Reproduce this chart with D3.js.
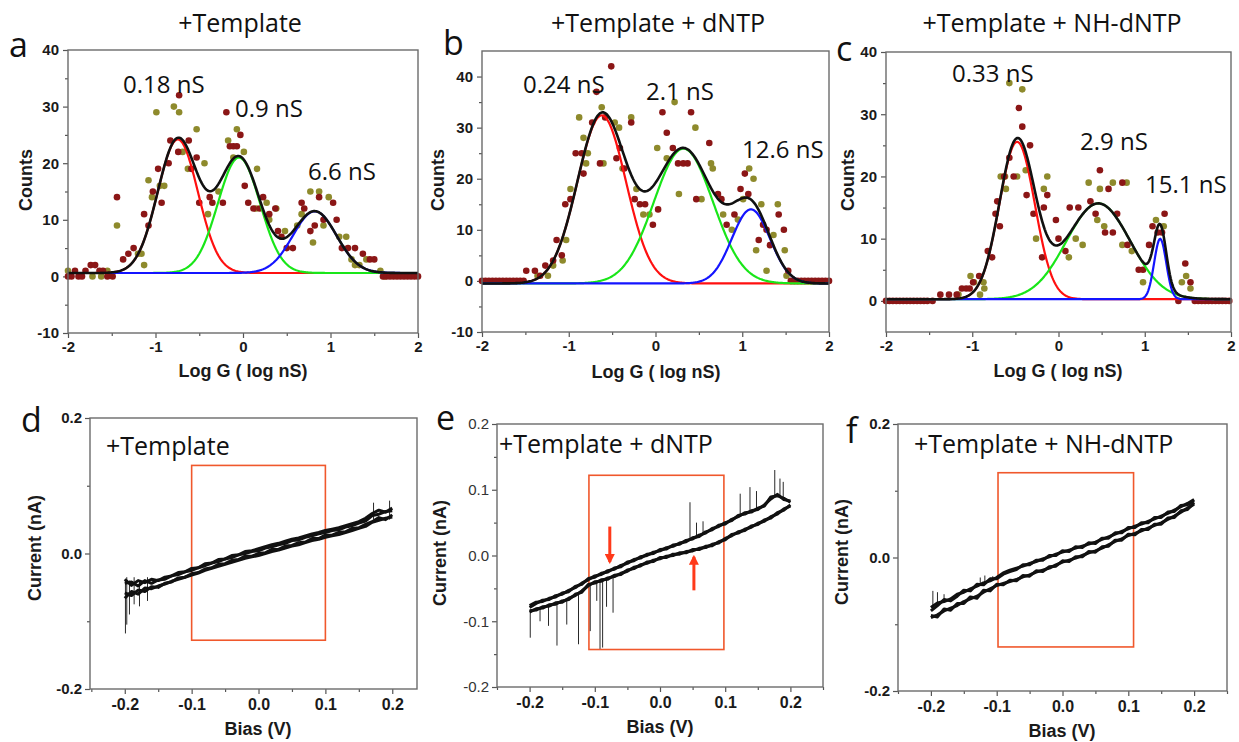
<!DOCTYPE html>
<html>
<head>
<meta charset="utf-8">
<script src="https://cdn.jsdelivr.net/npm/d3@7"></script>
<style>
  body { margin: 0; background: #fff; }
  svg { display: block; }
</style>
</head>
<body>
<div id="chart"></div>
<script>
// ---------- histogram data : [log G (log nS), counts] ----------
const aRed = [[-2.00,0],[-1.96,0],[-1.92,1],[-1.88,0],[-1.84,0],[-1.80,1],[-1.74,2],[-1.69,2],[-1.64,1],[-1.60,1],[-1.55,0],[-1.49,0],
  [-1.44,14],[-1.37,3],[-1.31,4],[-1.25,5],[-1.13,11],[-1.08,9],[-1.03,15],[-0.97,19],[-0.93,13],[-0.85,20],[-0.83,24],[-0.73,32],
  [-0.74,22],[-0.62,24],[-0.59,19],[-0.53,21],[-0.50,13],[-0.38,14],[-0.35,13],[-0.23,13],[-0.19,29],[-0.15,23],[-0.11,23],[-0.07,23],
  [-0.03,25],[0.02,16],[0.06,13],[0.12,12],[0.19,12],[0.23,14],[0.30,11],[0.37,12],[0.40,8],[0.44,7],[0.50,5],[0.57,5],[0.67,13],
  [0.70,12],[0.77,8],[0.82,9],[0.87,14],[0.92,10],[1.03,13],[1.07,10],[1.13,5],[1.20,5],[1.28,5],[1.37,4],[1.45,3],[1.50,3],
  [1.60,0],[1.64,0],[1.68,0],[1.72,0],[1.76,0],[1.80,0],[1.84,0],[1.88,0],[1.92,0],[1.96,0],[2.00,0]];
const aOlive = [[-2.00,1],[-1.72,0],[-1.62,0],[-1.55,1],[-1.44,9],[-1.20,4],[-1.16,4],[-1.13,2],[-1.08,17],[-1.04,14],[-0.99,29],
  [-0.95,16],[-0.90,16],[-0.79,30],[-0.73,29],[-0.69,22],[-0.63,19],[-0.53,26],[-0.44,20],[-0.40,11],[-0.28,15],[-0.17,24],
  [-0.11,21],[-0.07,26],[0.01,22],[0.15,12],[0.16,19],[0.27,13],[0.30,10],[0.38,12],[0.48,8],[0.62,9],[0.67,11],[0.77,15],
  [0.80,6],[0.87,15],[0.92,9],[0.98,14],[1.10,7],[1.18,7],[1.24,3],[1.28,2],[1.33,2],[1.41,3],[1.57,1],[1.62,0]];

const bRed = [[-2.00,0],[-1.96,0],[-1.92,0],[-1.88,0],[-1.84,0],[-1.80,0],[-1.76,0],[-1.72,0],[-1.68,0],[-1.64,0],[-1.60,0],[-1.56,0],[-1.52,0],
  [-1.49,2],[-1.39,2],[-1.33,1],[-1.27,3],[-1.18,4],[-1.14,8],[-1.08,5],[-1.04,15],[-0.98,16],[-0.92,25],[-0.85,25],[-0.83,21],
  [-0.73,31],[-0.68,37],[-0.64,23],[-0.58,32],[-0.51,42],[-0.45,24],[-0.41,26],[-0.36,22],[-0.28,31],[-0.24,16],[-0.18,15],
  [-0.12,15],[-0.03,11],[0.03,14],[0.08,33],[0.13,29],[0.20,26],[0.26,23],[0.32,23],[0.37,23],[0.41,33],[0.47,16],[0.62,27],
  [0.72,17],[0.76,16],[0.82,11],[0.91,13],[0.98,18],[1.03,21],[1.07,17],[1.19,8],[1.24,11],[1.28,10],[1.32,7],[1.42,13],
  [1.48,10],[1.53,2],[1.56,0],[1.60,0],[1.64,0],[1.68,0],[1.72,0],[1.76,0],[1.80,0],[1.84,0],[1.88,0],[1.92,0],[1.96,0],[2.00,0]];
const bOlive = [[-1.36,1],[-1.24,1],[-1.18,3],[-1.07,4],[-1.03,8],[-0.98,18],[-0.88,32],[-0.83,28],[-0.80,23],[-0.78,25],
  [-0.62,34],[-0.60,23],[-0.47,31],[-0.42,30],[-0.38,22],[-0.28,32],[-0.22,18],[-0.14,13],[-0.07,13],[0.02,26],[0.13,24],
  [0.22,35],[0.27,17],[0.46,30],[0.53,16],[0.64,23],[0.66,22],[0.78,13],[0.88,10],[0.95,12],[1.01,16],[1.08,22],[1.13,20],
  [1.16,6],[1.22,15],[1.28,2],[1.36,9],[1.41,15],[1.49,6],[1.51,1]];

const cRed = [[-2.00,0],[-1.96,0],[-1.92,0],[-1.88,0],[-1.84,0],[-1.80,0],[-1.76,0],[-1.72,0],[-1.68,0],[-1.64,0],[-1.60,0],[-1.56,0],[-1.52,0],[-1.46,0],
  [-1.37,1],[-1.27,1],[-1.18,1],[-1.12,2],[-1.07,2],[-1.03,2],[-0.99,3],[-0.92,4],[-0.82,8],[-0.77,7],[-0.73,14],[-0.71,16],
  [-0.68,12],[-0.63,20],[-0.57,23],[-0.52,20],[-0.46,31],[-0.42,28],[-0.37,17],[-0.33,25],[-0.29,14],[-0.19,7],[-0.17,15],
  [-0.13,17],[-0.03,13],[0.00,10],[0.08,8],[0.13,15],[0.23,15],[0.37,16],[0.43,14],[0.48,21],[0.54,11],[0.58,18],[0.63,11],
  [0.68,14],[0.74,19],[0.80,9],[0.93,5],[0.98,5],[1.05,9],[1.09,12],[1.15,11],[1.20,11],[1.23,14],[1.39,0],[1.47,6],[1.53,3],
  [1.58,0],[1.62,0],[1.66,0],[1.70,0],[1.74,0],[1.78,0],[1.82,0],[1.86,0],[1.90,0],[1.94,0],[1.98,0]];
const cOlive = [[-1.16,1],[-1.02,4],[-0.98,3],[-0.91,1],[-0.87,3],[-0.86,2],[-0.67,20],[-0.62,20],[-0.61,18],[-0.57,35],
  [-0.48,20],[-0.42,34],[-0.38,21],[-0.26,10],[-0.17,18],[-0.13,20],[0.12,7],[0.20,10],[0.28,9],[0.35,19],[0.45,13],[0.48,18],
  [0.53,12],[0.63,19],[0.74,9],[0.79,19],[0.85,8],[0.98,3],[1.13,13],[1.22,12],[1.43,3],[1.48,4],[1.53,2]];

// ---------- Gaussian fit parameters ----------
const aPeakCenter = [-0.745, -0.046, 0.82];
const aPeakHeight = [23.6, 20.4, 10.9];
const aPeakWidth = [0.23, 0.24, 0.25];
const aBase = 0.6;
const bPeakCenter = [-0.62, 0.322, 1.10];
const bPeakHeight = [32.9, 26.4, 14.5];
const bPeakWidth = [0.28, 0.34, 0.22];
const bBase = -0.5;
const cPeakCenter = [-0.48, 0.462, 1.179];
const cPeakHeight = [25.3, 15.4, 9.7];
const cPeakWidth = [0.205, 0.37, 0.07];
const cBase = 0.27;

const aPeakLabels = ['0.18 nS', '0.9 nS', '6.6 nS'];
const bPeakLabels = ['0.24 nS', '2.1 nS', '12.6 nS'];
const cPeakLabels = ['0.33 nS', '2.9 nS', '15.1 nS'];
const titles = ['+Template', '+Template + dNTP', '+Template + NH-dNTP'];

// ---------- I-V sweeps : bias (V) and current (nA) ----------
const biasV = [-0.20,-0.19,-0.18,-0.17,-0.16,-0.15,-0.14,-0.13,-0.12,-0.11,-0.10,-0.09,-0.08,-0.07,-0.06,-0.05,-0.04,-0.03,-0.02,-0.01,
  0.00,0.01,0.02,0.03,0.04,0.05,0.06,0.07,0.08,0.09,0.10,0.11,0.12,0.13,0.14,0.15,0.16,0.17,0.18,0.19,0.20];

const dUp1 = [-0.038,-0.047,-0.040,-0.043,-0.038,-0.040,-0.035,-0.033,-0.028,-0.027,-0.022,-0.021,-0.015,-0.014,-0.009,-0.008,-0.003,-0.002,0.003,0.004,
  0.007,0.010,0.013,0.015,0.018,0.021,0.023,0.026,0.029,0.031,0.034,0.036,0.038,0.041,0.044,0.047,0.052,0.059,0.064,0.061,0.067];
const dDn1 = [-0.066,-0.056,-0.060,-0.051,-0.052,-0.048,-0.045,-0.041,-0.038,-0.035,-0.032,-0.029,-0.025,-0.022,-0.019,-0.016,-0.013,-0.010,-0.007,-0.005,
  -0.003,0.000,0.003,0.005,0.008,0.011,0.013,0.016,0.019,0.021,0.024,0.026,0.028,0.031,0.034,0.037,0.040,0.046,0.049,0.052,0.054];
const dUp2 = [-0.044,-0.042,-0.048,-0.040,-0.044,-0.039,-0.038,-0.033,-0.031,-0.027,-0.025,-0.021,-0.018,-0.014,-0.012,-0.008,-0.006,-0.002,0.000,0.003,
  0.004,0.008,0.010,0.013,0.015,0.019,0.020,0.024,0.026,0.029,0.031,0.034,0.035,0.039,0.041,0.045,0.048,0.056,0.058,0.062,0.063];
const dDn2 = [-0.058,-0.062,-0.054,-0.056,-0.049,-0.050,-0.044,-0.042,-0.036,-0.035,-0.030,-0.028,-0.023,-0.021,-0.016,-0.015,-0.010,-0.009,-0.004,-0.004,
  0.000,0.001,0.006,0.006,0.011,0.012,0.016,0.017,0.022,0.022,0.027,0.027,0.031,0.032,0.037,0.038,0.043,0.047,0.053,0.050,0.057];

const eUp1 = [-0.076,-0.071,-0.070,-0.065,-0.063,-0.057,-0.055,-0.047,-0.044,-0.035,-0.033,-0.027,-0.025,-0.019,-0.017,-0.010,-0.008,-0.002,0.000,0.005,
  0.007,0.012,0.014,0.019,0.021,0.027,0.029,0.036,0.039,0.046,0.048,0.055,0.059,0.065,0.066,0.072,0.075,0.089,0.091,0.087,0.081];
const eDn1 = [-0.086,-0.081,-0.080,-0.075,-0.074,-0.069,-0.067,-0.059,-0.056,-0.044,-0.042,-0.037,-0.036,-0.030,-0.029,-0.022,-0.020,-0.014,-0.012,-0.007,
  -0.005,-0.001,0.000,0.004,0.004,0.009,0.009,0.014,0.015,0.021,0.024,0.032,0.034,0.040,0.043,0.049,0.052,0.059,0.063,0.071,0.075];
const eUp2 = [-0.079,-0.073,-0.068,-0.067,-0.061,-0.059,-0.053,-0.049,-0.042,-0.037,-0.031,-0.029,-0.023,-0.021,-0.015,-0.012,-0.006,-0.004,0.002,0.003,
  0.009,0.010,0.016,0.017,0.023,0.025,0.031,0.034,0.041,0.044,0.050,0.053,0.061,0.063,0.068,0.070,0.077,0.086,0.093,0.085,0.083];
const eDn2 = [-0.084,-0.083,-0.078,-0.077,-0.072,-0.071,-0.065,-0.061,-0.054,-0.046,-0.040,-0.039,-0.034,-0.032,-0.027,-0.024,-0.018,-0.016,-0.010,-0.009,
  -0.003,-0.003,0.002,0.002,0.006,0.007,0.011,0.012,0.017,0.019,0.026,0.030,0.036,0.038,0.045,0.047,0.054,0.057,0.065,0.069,0.077];

const fUp1 = [-0.075,-0.068,-0.066,-0.062,-0.055,-0.052,-0.047,-0.043,-0.038,-0.035,-0.030,-0.023,-0.019,-0.016,-0.013,-0.009,-0.006,-0.002,0.001,0.005,
  0.008,0.011,0.014,0.017,0.020,0.023,0.027,0.031,0.035,0.039,0.043,0.047,0.050,0.054,0.058,0.062,0.066,0.071,0.076,0.081,0.087];
const fDn1 = [-0.090,-0.086,-0.080,-0.076,-0.072,-0.066,-0.062,-0.058,-0.052,-0.047,-0.042,-0.039,-0.036,-0.033,-0.029,-0.026,-0.022,-0.019,-0.016,-0.011,
  -0.007,-0.004,-0.001,0.003,0.007,0.010,0.014,0.019,0.024,0.028,0.033,0.036,0.040,0.044,0.048,0.052,0.057,0.062,0.068,0.074,0.080];
const fUp2 = [-0.080,-0.072,-0.063,-0.065,-0.058,-0.049,-0.050,-0.040,-0.041,-0.032,-0.032,-0.025,-0.021,-0.018,-0.011,-0.011,-0.004,-0.004,0.003,0.003,
  0.010,0.009,0.016,0.015,0.022,0.021,0.029,0.029,0.037,0.037,0.045,0.045,0.052,0.052,0.060,0.060,0.068,0.069,0.078,0.079,0.085];
const fDn2 = [-0.087,-0.089,-0.077,-0.079,-0.069,-0.069,-0.059,-0.061,-0.049,-0.050,-0.040,-0.041,-0.034,-0.035,-0.027,-0.028,-0.020,-0.021,-0.014,-0.013,
  -0.005,-0.006,0.001,0.001,0.009,0.008,0.016,0.017,0.026,0.026,0.035,0.034,0.042,0.042,0.050,0.050,0.059,0.060,0.070,0.072,0.082];

// spikes : [bias, from current, to current]
const dSpikes = [[-0.199,-0.040,-0.118],[-0.197,-0.035,-0.105],[-0.193,-0.040,-0.090],[-0.186,-0.035,-0.075],[-0.178,-0.040,-0.078],
  [-0.166,-0.035,-0.070],[0.172,0.050,0.075],[0.196,0.050,0.078]];
const eSpikes = [[-0.199,-0.085,-0.125],[-0.184,-0.080,-0.100],[-0.171,-0.076,-0.107],[-0.158,-0.073,-0.137],[-0.143,-0.066,-0.105],
  [-0.125,-0.058,-0.135],[-0.107,-0.045,-0.115],[-0.097,-0.040,-0.069],[-0.092,-0.040,-0.142],[-0.088,-0.038,-0.140],
  [-0.082,-0.036,-0.078],[-0.072,-0.032,-0.087],[0.046,0.026,0.081],[0.056,0.030,0.050],[0.066,0.033,0.052],[0.123,0.060,0.094],
  [0.138,0.066,0.104],[0.148,0.070,0.098],[0.176,0.090,0.130],[0.184,0.090,0.117],[0.189,0.088,0.112]];
const fSpikes = [[-0.197,-0.075,-0.050],[-0.190,-0.070,-0.052],[-0.180,-0.066,-0.055],[-0.125,-0.040,-0.030],[-0.118,-0.040,-0.027],[-0.106,-0.035,-0.028]];

// highlight boxes : [bias min, bias max, current min, current max]
const dBox = [-0.100, 0.100, -0.128, 0.130];
const eBox = [-0.109, 0.098, -0.143, 0.122];
const fBox = [-0.098, 0.108, -0.134, 0.127];
// arrows in e : [bias, tail current, head current]
const eArrows = [[-0.077, 0.044, -0.010], [0.052, -0.053, -0.002]];

const AXIS_FONT = '"Liberation Sans", Arial, sans-serif';
const TEXT_FONT = '"Open Sans", sans-serif';

const svg = d3.select('#chart').append('svg').attr('width', 1239).attr('height', 742);

svg.append('defs').append('marker')
  .attr('id', 'arrowHead')
  .attr('viewBox', '0 0 10 10')
  .attr('refX', 8).attr('refY', 5)
  .attr('markerWidth', 10).attr('markerHeight', 10)
  .attr('markerUnits', 'userSpaceOnUse')
  .attr('orient', 'auto')
  .append('path').attr('d', 'M0,0 L10,5 L0,10 z').attr('fill', '#ff3a1a');

class Panel {
  constructor(svg, cfg) {
    this.svg = svg;
    this.cfg = cfg;
    this.g = svg.append('g');
    this.initScale();
  }
  initScale() {
    const b = this.cfg.box;
    this.x = d3.scaleLinear().domain(this.cfg.xDomain).range([b.l, b.r]);
    this.y = d3.scaleLinear().domain(this.cfg.yDomain).range([b.b, b.t]);
  }
  initAxis() {
    const c = this.cfg;
    const b = c.box;
    // minor ticks
    this.g.append('g').attr('transform', `translate(0,${b.b})`)
      .call(d3.axisBottom(this.x).tickValues(c.xMinor).tickSize(3).tickFormat(''));
    this.g.append('g').attr('transform', `translate(${b.l},0)`)
      .call(d3.axisLeft(this.y).tickValues(c.yMinor).tickSize(3).tickFormat(''));
    // major ticks
    const xa = this.g.append('g').attr('transform', `translate(0,${b.b})`)
      .call(d3.axisBottom(this.x).tickValues(c.xMajor).tickSize(5).tickPadding(c.xPad).tickFormat(c.xFmt));
    const ya = this.g.append('g').attr('transform', `translate(${b.l},0)`)
      .call(d3.axisLeft(this.y).tickValues(c.yMajor).tickSize(5).tickPadding(c.yPad).tickFormat(c.yFmt));
    xa.selectAll('text')
      .attr('font-family', AXIS_FONT).attr('font-size', c.xFont).attr('font-weight', 'bold').attr('fill', '#1a1a1a');
    ya.selectAll('text')
      .attr('font-family', AXIS_FONT).attr('font-size', c.yFont)
      .attr('font-weight', c.yBold ? 'bold' : 'normal').attr('fill', c.yBold ? '#1a1a1a' : '#333');
    this.g.selectAll('.domain').remove();
    this.g.selectAll('.tick line').attr('stroke', '#555').attr('stroke-width', 1.2);
  }
  drawFrame() {
    const b = this.cfg.box;
    this.g.append('rect')
      .attr('x', b.l).attr('y', b.t)
      .attr('width', b.r - b.l).attr('height', b.b - b.t)
      .attr('fill', 'none').attr('stroke', '#6b6b6b').attr('stroke-width', 1.4);
  }
  drawLabels() {
    const c = this.cfg;
    // axis titles
    this.g.append('text')
      .attr('x', c.xTitle[0]).attr('y', c.xTitle[1])
      .attr('text-anchor', 'middle')
      .attr('font-family', AXIS_FONT).attr('font-size', 18).attr('font-weight', 'bold').attr('fill', '#1a1a1a')
      .text(c.xLabel);
    this.g.append('text')
      .attr('transform', `translate(${c.yTitle[0]},${c.yTitle[1]}) rotate(-90)`)
      .attr('text-anchor', 'middle')
      .attr('font-family', AXIS_FONT).attr('font-size', 18).attr('font-weight', 'bold').attr('fill', '#1a1a1a')
      .text(c.yLabel);
    // panel letter
    this.g.append('text')
      .attr('x', c.letterPos[0]).attr('y', c.letterPos[1])
      .attr('font-family', TEXT_FONT).attr('font-size', 34).attr('fill', '#111')
      .text(c.letter);
  }
}

class HistPanel extends Panel {
  init() {
    this.initAxis();
    this.drawDots();
    this.drawFits();
    this.drawFrame();
    this.drawLabels();
    this.drawNotes();
    return this;
  }
  drawDots() {
    const c = this.cfg;
    const dots = this.g.append('g');
    dots.selectAll('circle.olive').data(c.olive).join('circle')
      .attr('class', 'olive')
      .attr('cx', d => this.x(d[0])).attr('cy', d => this.y(d[1])).attr('r', 3.3)
      .attr('fill', '#8e8a2c');
    dots.selectAll('circle.red').data(c.red).join('circle')
      .attr('class', 'red')
      .attr('cx', d => this.x(d[0])).attr('cy', d => this.y(d[1])).attr('r', 3.3)
      .attr('fill', '#8b1616');
  }
  drawFits() {
    const c = this.cfg;
    const grid = d3.range(-2, 2.0001, 0.01);
    const gauss = (v, i) => c.height[i] * Math.exp(-((v - c.center[i]) ** 2) / (2 * c.width[i] ** 2));
    const line = d3.line().x(d => this.x(d[0])).y(d => this.y(d[1]));
    const colors = ['#ff1010', '#19e619', '#1414ff'];
    const fits = this.g.append('g').attr('fill', 'none');
    c.center.forEach((_, i) => {
      fits.append('path')
        .attr('d', line(grid.map(v => [v, c.base + gauss(v, i)])))
        .attr('stroke', colors[i]).attr('stroke-width', 2.2);
    });
    fits.append('path')
      .attr('d', line(grid.map(v => [v, c.base + d3.sum(c.center, (_, i) => gauss(v, i))])))
      .attr('stroke', '#111').attr('stroke-width', 2.6);
  }
  drawNotes() {
    const c = this.cfg;
    this.g.append('text')
      .attr('x', c.titlePos[0]).attr('y', c.titlePos[1])
      .attr('text-anchor', 'middle')
      .attr('font-family', TEXT_FONT).attr('font-size', 25).attr('fill', '#111')
      .text(c.title);
    this.g.selectAll('text.peak').data(c.peakLabels).join('text')
      .attr('class', 'peak')
      .attr('x', (d, i) => c.peakPos[i][0]).attr('y', (d, i) => c.peakPos[i][1])
      .attr('font-family', TEXT_FONT).attr('font-size', 24).attr('fill', '#111')
      .text(d => d);
  }
}

class IVPanel extends Panel {
  init() {
    this.initAxis();
    this.drawBox();
    this.drawSweeps();
    this.drawFrame();
    this.drawLabels();
    this.drawNotes();
    return this;
  }
  drawSweeps() {
    const c = this.cfg;
    const line = d3.line().x((d, i) => this.x(biasV[i])).y(d => this.y(d));
    const g = this.g.append('g').attr('fill', 'none').attr('stroke', '#111');
    // thick noisy band : each sweep drawn wide, then a thin pass for the ragged edge
    c.sweeps.forEach(s => {
      g.append('path').attr('d', line(s)).attr('stroke-width', 3).attr('stroke-linejoin', 'round');
    });
    g.selectAll('line.spike').data(c.spikes).join('line')
      .attr('class', 'spike')
      .attr('x1', d => this.x(d[0])).attr('x2', d => this.x(d[0]))
      .attr('y1', d => this.y(d[1])).attr('y2', d => this.y(d[2]))
      .attr('stroke-width', 0.9);
  }
  drawBox() {
    const bx = this.cfg.hiBox;
    this.g.append('rect')
      .attr('x', this.x(bx[0])).attr('y', this.y(bx[3]))
      .attr('width', this.x(bx[1]) - this.x(bx[0]))
      .attr('height', this.y(bx[2]) - this.y(bx[3]))
      .attr('fill', 'none').attr('stroke', '#f0582c').attr('stroke-width', 1.6);
  }
  drawNotes() {
    const c = this.cfg;
    this.g.append('text')
      .attr('x', c.titlePos[0]).attr('y', c.titlePos[1])
      .attr('font-family', TEXT_FONT).attr('font-size', 25).attr('fill', '#111')
      .text(c.title);
    this.g.selectAll('line.arrow').data(c.arrows || []).join('line')
      .attr('class', 'arrow')
      .attr('x1', d => this.x(d[0])).attr('x2', d => this.x(d[0]))
      .attr('y1', d => this.y(d[1])).attr('y2', d => this.y(d[2]))
      .attr('stroke', '#ff3a1a').attr('stroke-width', 3)
      .attr('marker-end', 'url(#arrowHead)');
  }
}

const histX = { xDomain: [-2, 2], xMajor: [-2, -1, 0, 1, 2], xMinor: [-1.5, -0.5, 0.5, 1.5],
  xFmt: d => String(d), yFmt: d => String(d), xPad: 3, yPad: 4, xFont: 15, yFont: 15, yBold: true,
  xLabel: 'Log G ( log nS)', yLabel: 'Counts' };

new HistPanel(svg, Object.assign({}, histX, {
  box: { l: 68, t: 50, r: 418, b: 333 }, yDomain: [-10, 40],
  yMajor: [-10, 0, 10, 20, 30, 40], yMinor: [-5, 5, 15, 25, 35],
  red: aRed, olive: aOlive, center: aPeakCenter, height: aPeakHeight, width: aPeakWidth, base: aBase,
  peakLabels: aPeakLabels, peakPos: [[123, 93], [235, 117], [308, 180]],
  title: titles[0], titlePos: [240, 32], letter: 'a', letterPos: [9, 57],
  xTitle: [243, 377], yTitle: [32, 180]
})).init();

new HistPanel(svg, Object.assign({}, histX, {
  box: { l: 482, t: 51, r: 829, b: 332 }, yDomain: [-10, 45],
  yMajor: [-10, 0, 10, 20, 30, 40], yMinor: [-5, 5, 15, 25, 35],
  red: bRed, olive: bOlive, center: bPeakCenter, height: bPeakHeight, width: bPeakWidth, base: bBase,
  peakLabels: bPeakLabels, peakPos: [[523, 93], [646, 100], [742, 158]],
  title: titles[1], titlePos: [658, 32], letter: 'b', letterPos: [443, 55],
  xTitle: [656, 378], yTitle: [444, 180]
})).init();

new HistPanel(svg, Object.assign({}, histX, {
  box: { l: 886, t: 52, r: 1231, b: 332 }, yDomain: [-5, 40],
  yMajor: [0, 10, 20, 30, 40], yMinor: [5, 15, 25, 35],
  red: cRed, olive: cOlive, center: cPeakCenter, height: cPeakHeight, width: cPeakWidth, base: cBase,
  peakLabels: cPeakLabels, peakPos: [[952, 82], [1080, 150], [1145, 193]],
  title: titles[2], titlePos: [1052, 32], letter: 'c', letterPos: [836, 61],
  xTitle: [1058, 377], yTitle: [854, 180]
})).init();

const ivX = { xMajor: [-0.2, -0.1, 0, 0.1, 0.2], xFmt: d => d.toFixed(1), yFmt: d => d.toFixed(1),
  xPad: 5, yPad: 3, xFont: 16, yFont: 15, xLabel: 'Bias (V)', yLabel: 'Current (nA)' };

new IVPanel(svg, Object.assign({}, ivX, {
  box: { l: 90, t: 418, r: 417, b: 689 }, xDomain: [-0.252, 0.237], yDomain: [-0.2, 0.2],
  xMinor: [-0.25, -0.15, -0.05, 0.05, 0.15], yMajor: [-0.2, 0, 0.2], yMinor: [-0.1, 0.1], yBold: true,
  sweeps: [dUp1, dDn1, dUp2, dDn2], spikes: dSpikes, hiBox: dBox,
  title: titles[0], titlePos: [106, 455], letter: 'd', letterPos: [21, 432],
  xTitle: [258, 735], yTitle: [41, 548]
})).init();

new IVPanel(svg, Object.assign({}, ivX, {
  box: { l: 497, t: 424, r: 823, b: 687 }, xDomain: [-0.25, 0.25], yDomain: [-0.2, 0.2],
  xMinor: [-0.25, -0.15, -0.05, 0.05, 0.15, 0.25], yMajor: [-0.2, -0.1, 0, 0.1, 0.2], yMinor: [-0.15, -0.05, 0.05, 0.15], yBold: false,
  sweeps: [eUp1, eDn1, eUp2, eDn2], spikes: eSpikes, hiBox: eBox, arrows: eArrows,
  title: titles[1], titlePos: [499, 453], letter: 'e', letterPos: [436, 430],
  xTitle: [660, 733], yTitle: [446, 553]
})).init();

new IVPanel(svg, Object.assign({}, ivX, {
  box: { l: 898, t: 424, r: 1227, b: 691 }, xDomain: [-0.25, 0.25], yDomain: [-0.2, 0.2],
  xMinor: [-0.25, -0.15, -0.05, 0.05, 0.15, 0.25], yMajor: [-0.2, 0, 0.2], yMinor: [-0.1, 0.1], yBold: true,
  sweeps: [fUp1, fDn1, fUp2, fDn2], spikes: fSpikes, hiBox: fBox,
  title: titles[2], titlePos: [914, 453], letter: 'f', letterPos: [846, 443],
  xTitle: [1062, 737], yTitle: [848, 552]
})).init();
</script>
</body>
</html>
